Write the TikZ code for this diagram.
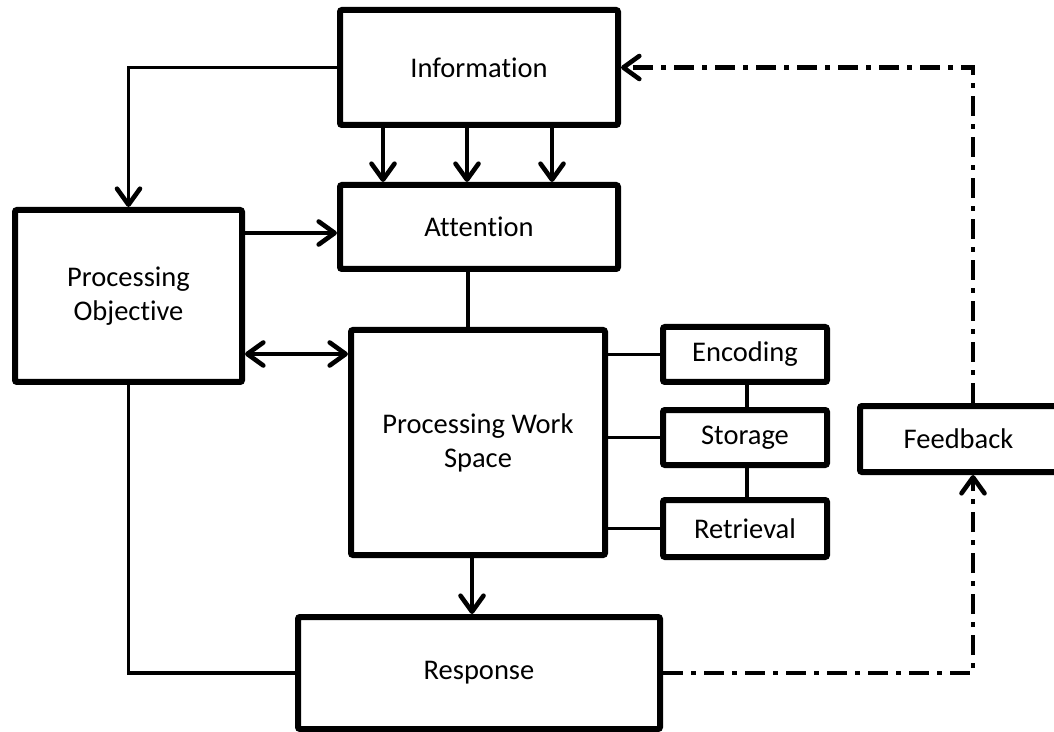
\documentclass[tikz,border=0pt]{standalone}
\usepackage{fontspec}
\setmainfont{Carlito}[Ligatures={NoCommon}]
\usetikzlibrary{arrows.meta}
\tikzset{barb/.tip={Straight Barb[length=8pt,width=11.5pt,line width=2.3pt,line cap=round,line join=round]}}
\begin{document}
\begin{tikzpicture}[x=0.5pt,y=-0.5pt,
  box/.style={draw, line width=3pt, rounded corners=1pt, inner sep=2pt,
    align=center, font=\fontsize{14.25}{17}\selectfont},
  link/.style={line width=1.9pt},
  arr/.style={link, -barb},
  darr/.style={link, barb-barb},
  fbline/.style={line width=2.3pt, dash pattern=on 10pt off 4pt on 2.5pt off 4pt, -barb}]
\useasboundingbox (0,0) rectangle (1054,732);
\clip (0,0) rectangle (1054,732);
\fill[white] (0,0) rectangle (1054,732);

% boxes
\node[box, minimum width=139pt, minimum height=57.5pt] (info) at (479,67.5) {Information};
\node[box, minimum width=139pt, minimum height=42pt] (att) at (479,227) {Attention};
\node[box, minimum width=113.5pt, minimum height=86pt] (po) at (128.5,296) {Processing\\Objective};
\node[box, minimum width=127pt, minimum height=112.5pt] (pws) at (478,442.5) {Processing Work\\Space};
\node[box, minimum width=82pt, minimum height=27.5pt] (enc) at (745,354.5) {Encoding};
\node[box, minimum width=82pt, minimum height=27.5pt] (sto) at (745,437.5) {Storage};
\node[box, minimum width=82pt, minimum height=28.5pt] (ret) at (745,528.5) {Retrieval};
\node[box, minimum width=98.5pt, minimum height=33pt] (fb) at (958.5,439) {Feedback};
\node[box, minimum width=181pt, minimum height=56pt] (resp) at (479,673) {Response};

% solid connectors
\draw[arr] (info.west) -| (po.north);
\draw[arr] (383,0 |- info.south) -- (383,0 |- att.north);
\draw[arr] (467,0 |- info.south) -- (467,0 |- att.north);
\draw[arr] (552,0 |- info.south) -- (552,0 |- att.north);
\draw[arr] (po.east |- 0,233) -- (att.west |- 0,233);
\draw[darr] (po.east |- 0,354) -- (pws.west |- 0,354);
\draw[link] (468,0 |- att.south) -- (468,0 |- pws.north);
\draw[link] (pws.east |- enc.west) -- (enc.west);
\draw[link] (pws.east |- sto.west) -- (sto.west);
\draw[link] (pws.east |- ret.west) -- (ret.west);
\draw[link] (747,0 |- enc.south) -- (747,0 |- sto.north);
\draw[link] (747,0 |- sto.south) -- (747,0 |- ret.north);
\draw[arr] (472,0 |- pws.south) -- (472,0 |- resp.north);
\draw[link] (po.south) |- (resp.west);

% feedback loop
\coordinate (fbin) at (973,0 |- fb.south);
\coordinate (fbout) at (973,0 |- fb.north);
\draw[fbline] (resp.east) -| (fbin);
\draw[fbline] (fbout) |- (info.east);
\end{tikzpicture}
\end{document}
